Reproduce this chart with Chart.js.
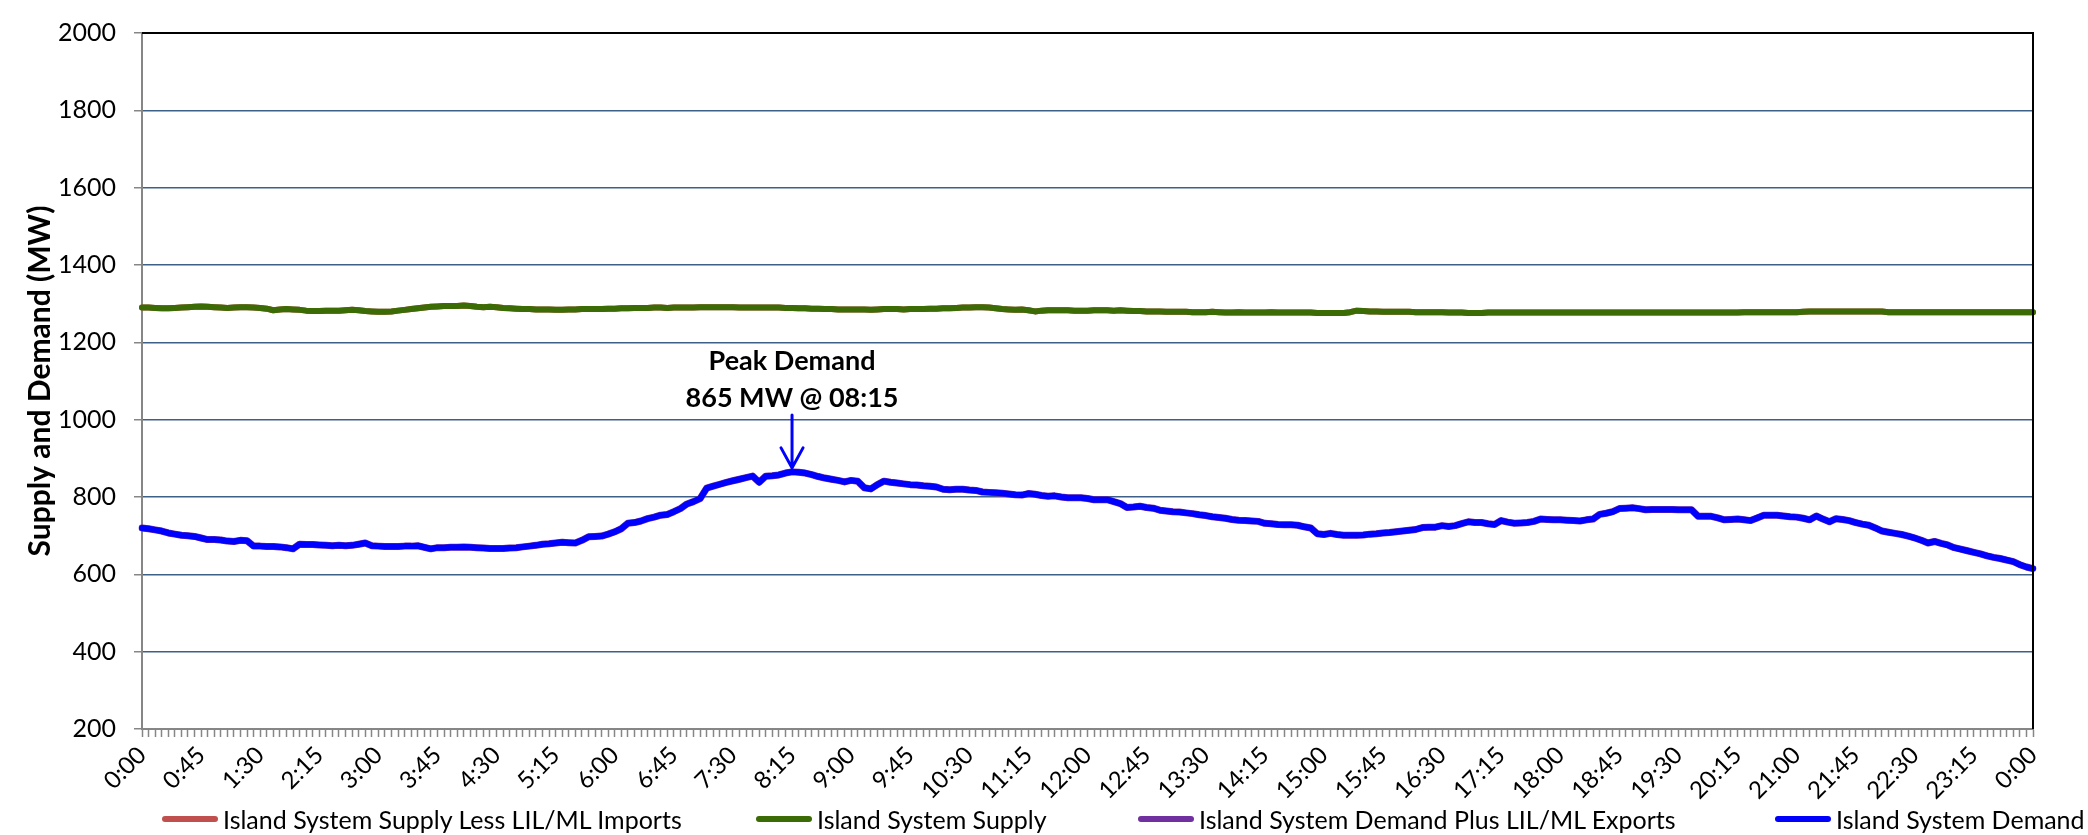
<!DOCTYPE html>
<html>
<head>
<meta charset="utf-8">
<script src="https://cdn.jsdelivr.net/npm/chart.js@4.4.1/dist/chart.umd.min.js"></script>
<style>
  html, body { margin: 0; padding: 0; background: #fff; }
  #wrap { position: relative; width: 2088px; height: 835px; }
  #legend { position: absolute; left: 0; top: 803px; width: 2088px; height: 32px;
    font-family: Lato, "Open Sans", sans-serif; font-size: 25px; color: #000; }
  #legend .item { position: absolute; top: 0; height: 32px; display: flex; align-items: center; white-space: nowrap; }
  #legend .swatch { display: inline-block; width: 56px; height: 6px; border-radius: 3px; margin-right: 5px; }
</style>
</head>
<body>
<div id="wrap">
  <canvas id="mycanvas" width="2088" height="835"></canvas>
  <div id="legend"></div>
</div>
<script>
// x axis labels shown every 45 minutes (every 9th 5-minute point)
var tickLabels = ['0:00','0:45','1:30','2:15','3:00','3:45','4:30','5:15','6:00','6:45','7:30','8:15',
	'9:00','9:45','10:30','11:15','12:00','12:45','13:30','14:15','15:00','15:45','16:30','17:15',
	'18:00','18:45','19:30','20:15','21:00','21:45','22:30','23:15','0:00'];

// 5 minute categories, 0:00 .. 0:00 (289 points)
var times = [];
for (var i = 0; i <= 288; i++) {
	var m = (i * 5) % 1440;
	times.push(Math.floor(m / 60) + ':' + ('0' + (m % 60)).slice(-2));
}

// Island System Supply (MW)
var supply = [
	1290, 1290, 1289, 1288, 1288, 1289, 1290, 1291, 1292, 1293, 1292, 1291,
	1290, 1289, 1290, 1291, 1291, 1290, 1289, 1287, 1283, 1285, 1286, 1285,
	1284, 1282, 1281, 1281, 1282, 1282, 1282, 1283, 1284, 1283, 1281, 1280,
	1279, 1279, 1280, 1282, 1284, 1286, 1288, 1290, 1292, 1293, 1294, 1294,
	1294, 1295, 1294, 1292, 1291, 1292, 1291, 1289, 1288, 1287, 1286, 1286,
	1285, 1285, 1285, 1284, 1284, 1285, 1285, 1286, 1286, 1286, 1286, 1287,
	1287, 1288, 1288, 1289, 1289, 1289, 1290, 1290, 1289, 1290, 1290, 1290,
	1290, 1291, 1291, 1291, 1291, 1291, 1291, 1290, 1290, 1290, 1290, 1290,
	1290, 1290, 1289, 1289, 1288, 1288, 1287, 1287, 1286, 1286, 1285, 1285,
	1285, 1285, 1285, 1284, 1285, 1286, 1286, 1286, 1285, 1286, 1286, 1286,
	1287, 1287, 1288, 1288, 1289, 1290, 1290, 1291, 1291, 1290, 1288, 1286,
	1285, 1284, 1285, 1283, 1280, 1282, 1283, 1283, 1283, 1283, 1282, 1282,
	1282, 1283, 1283, 1283, 1282, 1283, 1282, 1281, 1281, 1280, 1280, 1280,
	1279, 1279, 1279, 1279, 1278, 1278, 1278, 1279, 1278, 1277, 1277, 1278,
	1277, 1277, 1277, 1277, 1278, 1277, 1277, 1277, 1277, 1277, 1277, 1276,
	1276, 1276, 1276, 1276, 1278, 1282, 1281, 1280, 1280, 1279, 1279, 1279,
	1279, 1279, 1278, 1278, 1278, 1278, 1278, 1277, 1277, 1277, 1276, 1276,
	1276, 1277, 1277, 1277, 1277, 1277, 1277, 1277, 1277, 1277, 1277, 1277,
	1277, 1277, 1277, 1277, 1277, 1277, 1277, 1277, 1277, 1277, 1277, 1277,
	1277, 1277, 1277, 1277, 1277, 1277, 1277, 1277, 1277, 1277, 1277, 1277,
	1277, 1277, 1277, 1277, 1278, 1278, 1278, 1278, 1278, 1278, 1278, 1278,
	1278, 1279, 1280, 1280, 1280, 1280, 1280, 1280, 1280, 1280, 1280, 1280,
	1280, 1280, 1278, 1278, 1278, 1278, 1278, 1278, 1278, 1278, 1278, 1278,
	1278, 1278, 1278, 1278, 1278, 1278, 1278, 1278, 1278, 1278, 1278, 1278,
	1278
];

// no LIL/ML imports this day: same as supply
var supplyLessImports = supply.slice();

// Island System Demand (MW)
var demand = [
	720, 718, 715, 712, 707, 704, 701, 700, 698, 694, 690, 690,
	689, 686, 685, 688, 687, 673, 673, 672, 672, 671, 669, 666,
	678, 677, 677, 676, 675, 674, 675, 674, 675, 678, 681, 674,
	673, 672, 672, 672, 673, 673, 674, 670, 666, 669, 669, 670,
	670, 671, 670, 669, 668, 667, 667, 667, 668, 669, 671, 673,
	675, 678, 679, 681, 683, 682, 681, 688, 697, 698, 699, 704,
	710, 718, 732, 734, 738, 744, 748, 753, 755, 762, 770, 782,
	788, 796, 823, 828, 833, 838, 842, 846, 850, 854, 838, 854,
	855, 857, 862, 865, 864, 862, 858, 853, 849, 846, 843, 839,
	843, 841, 824, 821, 832, 841, 838, 836, 834, 832, 831, 829,
	828, 826, 820, 819, 820, 820, 818, 817, 813, 812, 811, 810,
	808, 806, 805, 809, 807, 804, 802, 803, 800, 798, 798, 798,
	796, 793, 793, 793, 788, 783, 773, 774, 776, 773, 771, 766,
	764, 762, 761, 759, 757, 754, 752, 749, 747, 745, 742, 740,
	739, 738, 737, 732, 731, 729, 728, 728, 727, 723, 720, 705,
	703, 706, 703, 701, 701, 701, 702, 704, 705, 707, 708, 710,
	712, 714, 716, 721, 722, 722, 726, 724, 726, 731, 736, 734,
	734, 731, 729, 739, 735, 732, 733, 734, 737, 743, 742, 741,
	741, 740, 739, 738, 741, 743, 755, 758, 762, 770, 771, 772,
	770, 767, 768, 768, 768, 768, 767, 767, 767, 750, 750, 750,
	746, 741, 742, 743, 741, 739, 746, 753, 753, 753, 751, 749,
	748, 745, 741, 751, 743, 736, 744, 742, 739, 734, 730, 727,
	720, 712, 709, 706, 703, 699, 694, 688, 681, 685, 680, 676,
	669, 665, 661, 657, 653, 648, 644, 641, 637, 633, 625, 619,
	615
];

// no LIL/ML exports this day: same as demand
var demandPlusExports = demand.slice();

var peakIndex = 99;   // 08:15
var peakValue = 865;
var peakText = ['Peak Demand', '865 MW @ 08:15'];

// left edge of each legend entry (px)
var legendX = [162, 756, 1138, 1775];

var FONT = 'Lato, "Open Sans", sans-serif';

var peakPlugin = {
	id: 'peak',
	afterDatasetsDraw: function(chart) {
		var c = chart.ctx;
		var x = chart.scales.x.getPixelForValue(peakIndex);
		var y = chart.scales.y.getPixelForValue(peakValue);
		c.save();
		c.strokeStyle = '#0000FF';
		c.lineWidth = 3;
		c.lineCap = 'round';
		c.beginPath();
		c.moveTo(x, y - 57);
		c.lineTo(x, y - 4);
		c.moveTo(x - 11, y - 24);
		c.lineTo(x, y - 4);
		c.lineTo(x + 11, y - 24);
		c.stroke();
		c.fillStyle = '#000';
		c.font = 'bold 27px ' + FONT;
		c.textAlign = 'center';
		c.textBaseline = 'middle';
		c.fillText(peakText[0], x, y - 111);
		c.fillText(peakText[1], x, y - 74);
		c.restore();
	},
	afterDraw: function(chart) {
		var a = chart.chartArea, c = chart.ctx;
		c.save();
		c.strokeStyle = '#000';
		c.lineWidth = 2;
		c.beginPath();
		c.moveTo(a.left, a.top);
		c.lineTo(a.right, a.top);
		c.lineTo(a.right, a.bottom);
		c.stroke();
		c.restore();
	}
};

var chartdata = {
	labels: times,
	datasets: [
		{
			label: 'Island System Supply Less LIL/ML Imports',
			data: supplyLessImports,
			borderColor: '#C0504D',
			backgroundColor: '#C0504D',
			borderWidth: 6,
			order: 4
		},
		{
			label: 'Island System Supply',
			data: supply,
			borderColor: '#3B6B04',
			backgroundColor: '#3B6B04',
			borderWidth: 6,
			order: 3
		},
		{
			label: 'Island System Demand Plus LIL/ML Exports',
			data: demandPlusExports,
			borderColor: '#7030A0',
			backgroundColor: '#7030A0',
			borderWidth: 7,
			order: 2
		},
		{
			label: 'Island System Demand',
			data: demand,
			borderColor: '#0000FF',
			backgroundColor: '#0000FF',
			borderWidth: 6,
			order: 1
		}
	]
};

var ctx = document.getElementById('mycanvas');

var lineGraph = new Chart(ctx, {
	type: 'line',
	data: chartdata,
	plugins: [peakPlugin],
	options: {
		responsive: false,
		animation: false,
		devicePixelRatio: 1,
		elements: {
			point: { radius: 0 },
			line: { tension: 0, borderJoinStyle: 'round', borderCapStyle: 'round' }
		},
		layout: { padding: { top: 30, right: 0, left: 0, bottom: 26 } },
		plugins: {
			tooltip: { enabled: false },
			legend: { display: false }
		},
		scales: {
			x: {
				type: 'category',
				offset: false,
				grid: {
					display: true,
					drawOnChartArea: false,
					drawTicks: true,
					tickLength: 8,
					tickColor: '#868686',
					tickWidth: 1.5
				},
				border: { color: '#868686', width: 2 },
				ticks: {
					autoSkip: false,
					maxRotation: 45,
					minRotation: 45,
					padding: 4,
					color: '#000',
					font: { family: FONT, size: 24 },
					callback: function(v, i) {
						return i % 9 === 0 ? tickLabels[i / 9] : '';
					}
				}
			},
			y: {
				min: 200,
				max: 2000,
				afterFit: function(scale) { scale.width = 142; },
				grid: {
					color: function(c) { return c.tick && c.tick.value === 2000 ? '#000' : '#3E5F8A'; },
					lineWidth: 1.5,
					tickLength: 8,
					tickColor: '#868686'
				},
				border: { color: '#868686', width: 2 },
				ticks: {
					stepSize: 200,
					padding: 18,
					color: '#000',
					font: { family: FONT, size: 25 },
					callback: function(v) { return String(v); }
				},
				title: {
					display: true,
					text: 'Supply and Demand (MW)',
					color: '#000',
					font: { family: FONT, size: 30, weight: 'bold' },
					padding: { top: 22, bottom: 0 }
				}
			},
			// empty right-hand box, keeps the plot edge at the reference position
			yRight: {
				position: 'right',
				display: true,
				afterFit: function(scale) { scale.width = 55; },
				grid: { display: false, drawTicks: false },
				border: { display: false },
				ticks: { display: false }
			}
		}
	}
});

// legend built from the chart's datasets
var legendBox = document.getElementById('legend');
lineGraph.data.datasets.forEach(function(ds, k) {
	var item = document.createElement('div');
	item.className = 'item';
	item.style.left = legendX[k] + 'px';
	var sw = document.createElement('span');
	sw.className = 'swatch';
	sw.style.background = ds.borderColor;
	item.appendChild(sw);
	item.appendChild(document.createTextNode(ds.label));
	legendBox.appendChild(item);
});
</script>
</body>
</html>
